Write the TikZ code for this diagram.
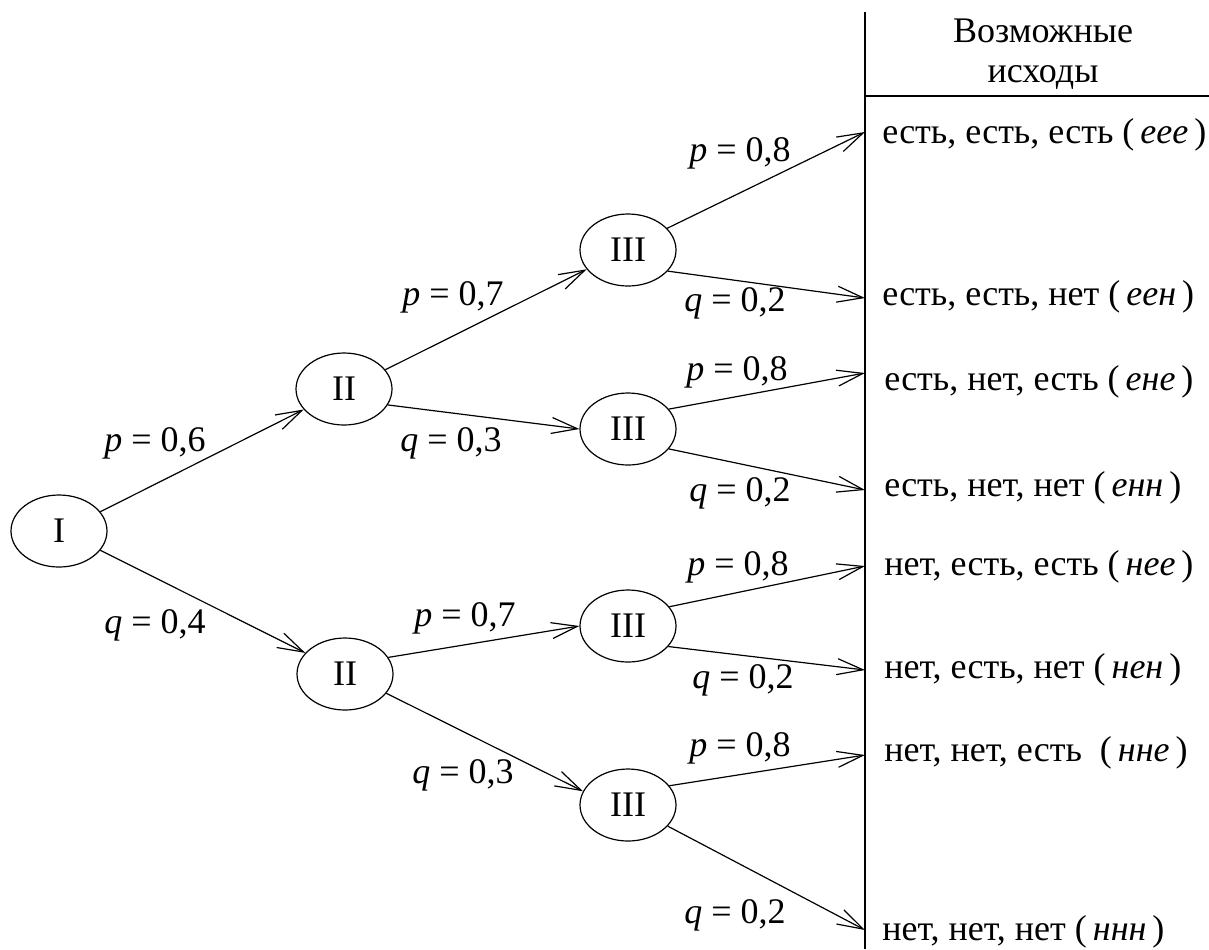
\documentclass[tikz,border=0pt]{standalone}
\usepackage{fontspec}
\setmainfont{Liberation Serif}
\usetikzlibrary{shapes.geometric,arrows.meta}
\begin{document}
\begin{tikzpicture}[x=0.5pt,y=-0.5pt,
  font=\fontsize{18}{21}\selectfont,
  stage/.style={ellipse,draw,line width=0.6pt,minimum width=48pt,minimum height=36pt,inner sep=0pt},
  branch/.style={line width=0.6pt,-{Straight Barb[length=13pt,width=8pt]}},
  prob/.style={inner sep=0pt},
  outcome/.style={anchor=west,inner sep=0pt},
  rule/.style={line width=1pt}]
\useasboundingbox (0,0) rectangle (1209,949);

% stages of the tree
\node[stage] (I)    at (59,531)  {I};
\node[stage] (IIa)  at (344,389) {II};
\node[stage] (IIb)  at (345,674) {II};
\node[stage] (IIIa) at (628,250) {III};
\node[stage] (IIIb) at (628,429) {III};
\node[stage] (IIIc) at (628,626) {III};
\node[stage] (IIId) at (628,805) {III};

% outcome table
\coordinate (top) at (865,12);
\coordinate (bot) at (865,949);
\coordinate (hl) at (865,96);
\coordinate (hr) at (1209,96);
\draw[rule] (top) -- (bot);
\draw[rule] (hl) -- (hr);
\node[align=center,inner sep=0pt] (head) at (1043,54) {Возможные\\[-1pt]исходы};

\coordinate (o1) at (865,132);
\coordinate (o2) at (865,298);
\coordinate (o3) at (865,373);
\coordinate (o4) at (865,490);
\coordinate (o5) at (865,566);
\coordinate (o6) at (865,670);
\coordinate (o7) at (865,755);
\coordinate (o8) at (865,930);

\node[outcome] (t1) at (882,135) {есть, есть, есть (\,\textit{еее}\,)};
\node[outcome] (t2) at (882,297) {есть, есть, нет (\,\textit{еен}\,)};
\node[outcome] (t3) at (884,382) {есть, нет, есть (\,\textit{ене}\,)};
\node[outcome] (t4) at (884,488) {есть, нет, нет (\,\textit{енн}\,)};
\node[outcome] (t5) at (884,567) {нет, есть, есть (\,\textit{нее}\,)};
\node[outcome] (t6) at (884,670) {нет, есть, нет (\,\textit{нен}\,)};
\node[outcome] (t7) at (884,753) {нет, нет, есть\ \ (\,\textit{нне}\,)};
\node[outcome] (t8) at (882,932) {нет, нет, нет (\,\textit{ннн}\,)};

% branches
\draw[branch] (I.25)  -- (IIa.207);
\draw[branch] (I.-25) -- (IIb.152);
\draw[branch] (IIa.25)  -- (IIIa.205);
\draw[branch] (IIa.-20) -- (IIIb.west);
\draw[branch] (IIb.21)  -- (IIIc.west);
\draw[branch] (IIb.-25) -- (IIId.163);

\draw[branch] (IIIa.29)  -- (o1);
\draw[branch] (IIIa.-28) -- (o2);
\draw[branch] (IIIb.26)  -- (o3);
\draw[branch] (IIIb.-26) -- (o4);
\draw[branch] (IIIc.25)  -- (o5);
\draw[branch] (IIIc.-27) -- (o6);
\draw[branch] (IIId.25)  -- (o7);
\draw[branch] (IIId.-28) -- (o8);

% branch probabilities
\node[prob] (l1) at (155,443) {\textit{p} = 0,6};
\node[prob] (l2) at (155,625) {\textit{q} = 0,4};
\node[prob] (l3) at (453,297) {\textit{p} = 0,7};
\node[prob] (l4) at (451,443) {\textit{q} = 0,3};
\node[prob] (l5) at (465,618) {\textit{p} = 0,7};
\node[prob] (l6) at (463,775) {\textit{q} = 0,3};
\node[prob] (l7) at (740,153) {\textit{p} = 0,8};
\node[prob] (l8) at (735,303) {\textit{q} = 0,2};
\node[prob] (l9) at (737,372) {\textit{p} = 0,8};
\node[prob] (l10) at (740,493) {\textit{q} = 0,2};
\node[prob] (l11) at (738,567) {\textit{p} = 0,8};
\node[prob] (l12) at (743,680) {\textit{q} = 0,2};
\node[prob] (l13) at (740,748) {\textit{p} = 0,8};
\node[prob] (l14) at (735,915) {\textit{q} = 0,2};
\end{tikzpicture}
\end{document}
